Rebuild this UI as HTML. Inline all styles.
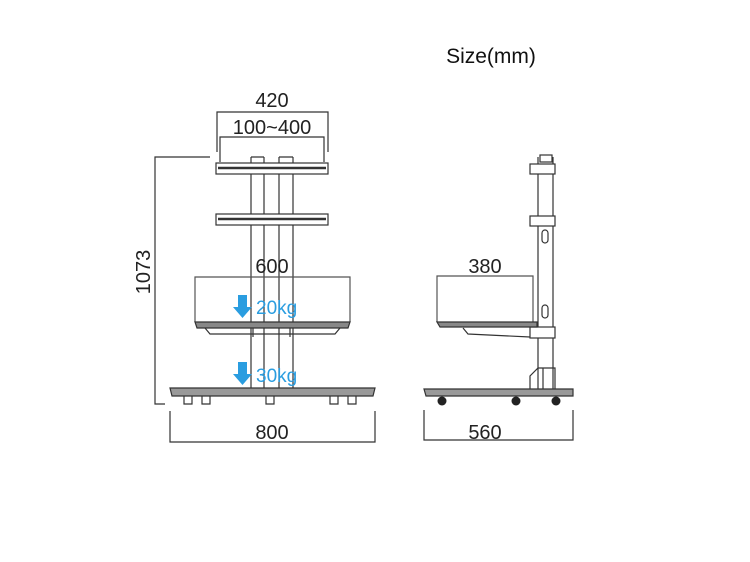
<!DOCTYPE html>
<html><head><style>body{margin:0;background:#fff}svg{display:block}</style></head><body>
<svg width="750" height="562" viewBox="0 0 750 562" xmlns="http://www.w3.org/2000/svg" font-family="Liberation Sans, sans-serif">
<rect width="750" height="562" fill="#fff"/>
<text x="491" y="63" font-size="21" text-anchor="middle" fill="#111">Size(mm)</text>
<g fill="none" stroke="#333" stroke-width="1.2">
<path d="M217,152 V112 H328 V152"/>
<path d="M220,162 V137 H324 V162"/>
<path d="M210,157 H155 V404 H165"/>
<path d="M251,157 V390 M264,157 V390 M279,157 V390 M293,157 V390"/>
<path d="M251,157 H264 M279,157 H293"/>
<rect x="216" y="163" width="112" height="11" fill="#fff"/>
<path d="M218,168 H326" stroke-width="2.5"/>
<rect x="216" y="214" width="112" height="11" fill="#fff"/>
<path d="M218,219 H326" stroke-width="2.5"/>
<path d="M195,322 V277 H350 V322" stroke="#555"/>
<path d="M195,322 H350 L348,328 H197 Z" fill="#888"/>
<path d="M205,328 L210,334 L335,334 L340,328"/>
<path d="M253,328 V337 M290,328 V337"/>
<path d="M170,388 H375 L373,396 H172 Z" fill="#999"/>
<path d="M184,396 v8 h8 v-8 M202,396 v8 h8 v-8 M266,396 v8 h8 v-8 M330,396 v8 h8 v-8 M348,396 v8 h8 v-8"/>
<path d="M170,411 V442 H375 V411"/>
<path d="M538,157 V390 M553,157 V390"/>
<rect x="540" y="155" width="12" height="7"/>
<rect x="530" y="164" width="25" height="10" fill="#fff"/>
<rect x="530" y="216" width="25" height="10" fill="#fff"/>
<rect x="530" y="327" width="25" height="11" fill="#fff"/>
<rect x="542" y="230" width="6" height="13" rx="3"/>
<rect x="542" y="305" width="6" height="13" rx="3"/>
<path d="M437,322 V276 H533 V322" stroke="#555"/>
<path d="M437,322 H537 V327 H440 Z" fill="#888"/>
<path d="M463,328 L468,334 L530,337"/>
<path d="M530,390 V376 L538,368 H555 V390 M543,368 V390"/>
<path d="M424,389 H573 V396 H426 Z" fill="#999"/>
<path d="M424,410 V440 H573 V410"/>
</g>
<g fill="#222"><circle cx="442" cy="401" r="4.5"/><circle cx="516" cy="401" r="4.5"/><circle cx="556" cy="401" r="4.5"/></g>
<g fill="#2a9de0">
<path d="M238,295 h9 v12 h5 l-9.5,11 l-9.5,-11 h5 Z"/>
<path d="M238,362 h9 v12 h5 l-9.5,11 l-9.5,-11 h5 Z"/>
</g>
<g font-size="20" fill="#222" text-anchor="middle">
<text x="272" y="107">420</text>
<text x="272" y="134">100~400</text>
<text x="272" y="273">600</text>
<text x="272" y="439">800</text>
<text x="485" y="273">380</text>
<text x="485" y="439">560</text>
<text transform="translate(150,272) rotate(-90)">1073</text>
</g>
<g font-size="19" fill="#2a9de0">
<text x="256" y="314">20kg</text>
<text x="256" y="382">30kg</text>
</g>
</svg>
</body></html>
